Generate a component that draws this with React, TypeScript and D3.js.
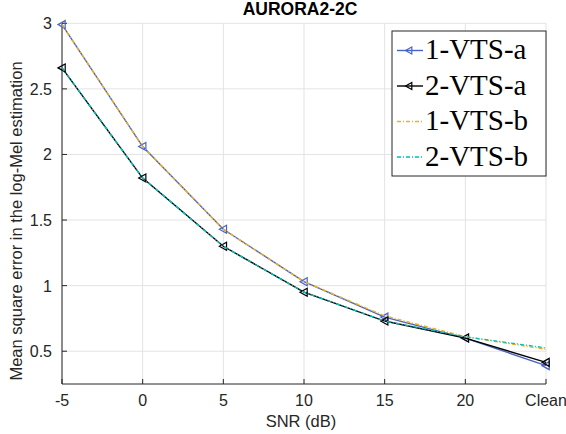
import React from 'react'
import * as d3 from 'd3'

// data
const categories = ['-5', '0', '5', '10', '15', '20', 'Clean']
const vts1a = [2.99, 2.06, 1.43, 1.03, 0.76, 0.6, 0.39]
const vts2a = [2.66, 1.82, 1.3, 0.95, 0.73, 0.6, 0.415]
const vts1b = [2.99, 2.06, 1.43, 1.03, 0.77, 0.61, 0.515]
const vts2b = [2.66, 1.82, 1.3, 0.95, 0.73, 0.61, 0.525]
const yTicks = [0.5, 1, 1.5, 2, 2.5, 3]

const series = [
  { name: '1-VTS-a', values: vts1a, color: '#4863c4', dash: '', marker: true },
  { name: '2-VTS-a', values: vts2a, color: '#000000', dash: '', marker: true },
  { name: '1-VTS-b', values: vts1b, color: '#edb120', dash: '4,2,1,2', marker: false },
  { name: '2-VTS-b', values: vts2b, color: '#00bfbf', dash: '4,2,1,2', marker: false },
]

const W = 566
const H = 434
const left = 62
const right = 546
const top = 23.3
const bottom = 384

const sans = 'Liberation Sans, Arial, Helvetica, sans-serif'
const serif = 'Liberation Serif, DejaVu Serif, serif'

export default function App() {
  const x = d3.scalePoint<string>().domain(categories).range([left, right])
  const y = d3.scaleLinear().domain([0.25, 3]).range([bottom, top])
  const line = d3.line<number>()
    .x((d, i) => x(categories[i]) as number)
    .y((d) => y(d))

  // left-pointing triangle marker
  const tri = (cx: number, cy: number, s = 4) =>
    `M${cx - s},${cy} L${cx + s * 0.8},${cy - s} L${cx + s * 0.8},${cy + s} Z`

  return (
    <svg width={W} height={H} style={{ position: 'absolute', left: 0, top: 0, background: '#fff' }}>
      {/* grid */}
      {categories.map((c) => (
        <line key={'gx' + c} x1={x(c)} x2={x(c)} y1={top} y2={bottom} stroke="#e3e3e3" strokeWidth={1} />
      ))}
      {yTicks.map((t) => (
        <line key={'gy' + t} x1={left} x2={right} y1={y(t)} y2={y(t)} stroke="#e3e3e3" strokeWidth={1} />
      ))}

      {/* axes */}
      <line x1={left} x2={left} y1={top} y2={bottom} stroke="#262626" strokeWidth={1} />
      <line x1={left} x2={right} y1={bottom} y2={bottom} stroke="#262626" strokeWidth={1} />
      {categories.map((c) => (
        <g key={'tx' + c}>
          <line x1={x(c)} x2={x(c)} y1={bottom} y2={bottom - 5} stroke="#262626" />
          <text x={x(c)} y={406} textAnchor="middle" fontFamily={sans} fontSize={16} fill="#262626">{c}</text>
        </g>
      ))}
      {yTicks.map((t) => (
        <g key={'ty' + t}>
          <line x1={left} x2={left + 5} y1={y(t)} y2={y(t)} stroke="#262626" />
          <text x={52} y={y(t) + 6} textAnchor="end" fontFamily={sans} fontSize={16} fill="#262626">{t}</text>
        </g>
      ))}

      {/* labels */}
      <text x={300} y={15} textAnchor="middle" fontFamily={sans} fontSize={17.5} fontWeight="bold" fill="#000">AURORA2-2C</text>
      <text x={301} y={427} textAnchor="middle" fontFamily={sans} fontSize={16.5} fill="#262626">SNR (dB)</text>
      <text transform={`translate(22,221) rotate(-90)`} textAnchor="middle" fontFamily={sans} fontSize={16.5} fill="#262626">
        Mean square error in the log-Mel estimation
      </text>

      {/* series */}
      {series.map((s) => (
        <g key={s.name}>
          <path d={line(s.values) as string} fill="none" stroke={s.color} strokeWidth={1.4} strokeDasharray={s.dash} />
          {s.marker && s.values.map((v, i) => (
            <path key={i} d={tri(x(categories[i]) as number, y(v))} fill="none" stroke={s.color} strokeWidth={1.2} />
          ))}
        </g>
      ))}

      {/* legend */}
      <rect x={392} y={31} width={154} height={145} fill="#fff" stroke="#262626" strokeWidth={1} />
      {series.map((s, i) => {
        const base = 59 + i * 35.5
        const cy = base - 8.5
        return (
          <g key={'lg' + s.name}>
            <line x1={397} x2={423} y1={cy} y2={cy} stroke={s.color} strokeWidth={1.4} strokeDasharray={s.dash} />
            {s.marker && <path d={tri(409, cy, 3.5)} fill="none" stroke={s.color} strokeWidth={1.2} />}
            <text x={425} y={base} fontFamily={serif} fontSize={29} fill="#000">{s.name}</text>
          </g>
        )
      })}
    </svg>
  )
}
